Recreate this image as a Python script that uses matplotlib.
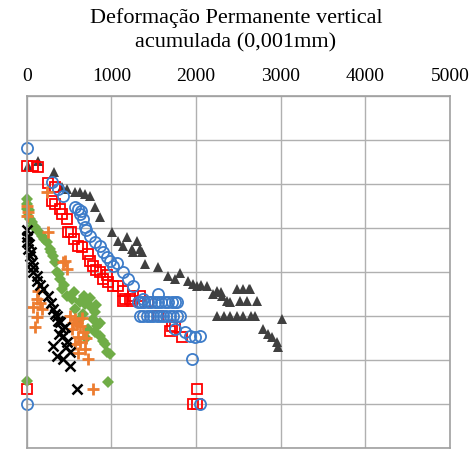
import numpy as np
import matplotlib
matplotlib.use('Agg')
import matplotlib.pyplot as plt

# deformacao permanente (0,001mm) vs posicao (eixo vertical sem rotulos)
tri_x = [10, 130, 320, 414, 473, 567, 626, 686, 745, 804, 863, 1005, 1076, 1135, 1182, 1241, 1300, 1336,
         1253, 1359, 1395, 1548, 1667, 1808, 1749, 1903, 1962, 2009, 2128, 2246, 2198, 2364, 2400, 2482,
         2553, 2636, 2600, 2719, 2246, 2400, 2482, 2553, 2695, 3014, 2790, 2849, 2896, 2955, 2967,
         2060, 2310, 2330, 2520, 2650, 2290, 2620]
tri_y = [1.59, 1.48, 1.73, 2.07, 2.11, 2.18, 2.18, 2.23, 2.27, 2.52, 2.75, 3.09, 3.30, 3.41, 3.20, 3.48, 3.30, 3.48,
         3.55, 3.55, 3.82, 3.89, 4.09, 4.02, 4.16, 4.20, 4.27, 4.32, 4.32, 4.43, 4.50, 4.66, 4.68, 4.39,
         4.39, 4.39, 4.66, 4.66, 5.00, 5.00, 5.00, 5.00, 5.00, 5.07, 5.30, 5.41, 5.48, 5.59, 5.70,
         4.30, 4.55, 5.00, 4.66, 5.00, 4.45, 4.39]

circ_x = [0, 295, 366, 425, 567, 603, 626, 662, 686, 745, 804, 863, 898, 946, 981, 1017, 1135, 1253, 1371, 1548,
          1312, 1350, 1390, 1430, 1470, 1510, 1550, 1590, 1630, 1670, 1710, 1750, 1773,
          1336, 1375, 1415, 1454, 1495, 1535, 1572, 1610, 1650, 1690, 1730, 1770, 1808,
          1749, 1868, 1927, 1986, 2045, 1950, 2045, 0, 640, 700, 1060, 1200]
circ_y = [1.18, 1.95, 2.11, 2.27, 2.52, 2.57, 2.68, 2.80, 2.98, 3.18, 3.32, 3.41, 3.55, 3.66, 3.75, 3.86, 4.00, 4.32, 4.61, 4.50,
          4.68, 4.68, 4.68, 4.68, 4.68, 4.68, 4.68, 4.68, 4.68, 4.68, 4.68, 4.68, 4.68,
          5.00, 5.00, 5.00, 5.00, 5.00, 5.00, 5.00, 5.00, 5.00, 5.00, 5.00, 5.00, 5.00,
          5.30, 5.36, 5.45, 5.48, 5.45, 5.98, 7.00, 7.00, 2.62, 3.05, 3.80, 4.15]

sq_x = [0, 70, 130, 250, 330, 295, 330, 390, 414, 473, 485, 603, 650, 721, 745, 780, 863, 946, 957, 1017,
        1076, 1135, 1158, 1217, 1253, 1336, 1135, 1241, 1690, 1749, 1832, 1714, 2009, 1962, 2009, 0,
        520, 560, 820, 900, 1430, 1550]
sq_y = [1.59, 1.59, 1.61, 1.98, 2.07, 2.39, 2.45, 2.57, 2.68, 2.80, 3.09, 3.41, 3.43, 3.59, 3.75, 3.86, 4.00, 4.07, 4.23, 4.32,
        4.32, 4.43, 4.61, 4.61, 4.55, 4.55, 4.66, 4.66, 5.34, 5.25, 5.48, 5.23, 6.66, 7.00, 7.00, 6.66,
        3.10, 3.25, 3.95, 4.15, 4.68, 5.00]

dia_x = [0, 0, 0, 10, 20, 60, 70, 130, 177, 236, 270, 307, 330, 355, 390, 414, 473, 532, 626, 686, 745, 804,
         780, 827, 804, 863, 898, 922, 946, 981, 721, 626, 567, 560, 680, 750, 820, 0, 957,
         40, 100, 200, 290, 380, 440, 660, 860, 700]
dia_y = [2.35, 2.45, 2.57, 2.73, 2.60, 2.86, 2.95, 3.07, 3.18, 3.32, 3.48, 3.64, 3.77, 4.00, 4.16, 4.39, 4.55, 4.61, 4.68, 4.73, 4.77, 4.91,
         5.07, 5.23, 5.36, 5.45, 5.57, 5.64, 5.82, 5.86, 5.30, 5.07, 4.84, 4.45, 4.55, 4.60, 4.75, 6.48, 6.50,
         2.80, 2.98, 3.25, 3.55, 4.05, 4.30, 4.95, 5.15, 5.50]

plus_x = [0, 0, 10, 236, 250, 425, 473, 450, 130, 120, 70, 177, 120, 95, 508, 567, 591, 626, 662, 603, 626,
          686, 721, 532, 567, 780, 650, 700, 540, 600, 160]
plus_y = [2.50, 2.73, 2.64, 2.18, 3.09, 3.77, 3.93, 3.75, 4.43, 4.61, 4.80, 4.84, 5.02, 5.25, 5.00, 5.07, 5.18, 5.23, 5.36, 5.48, 5.59,
          5.75, 5.98, 5.30, 5.64, 6.66, 5.05, 5.50, 5.15, 5.85, 4.70]

xm_x = [0, 10, 0, 10, 35, 60, 70, 70, 120, 120, 190, 250, 307, 330, 355, 366, 390, 414, 425, 473, 307, 355,
        425, 508, 508, 591, 0, 20, 47, 150, 280, 450, 380, 460]
xm_y = [3.05, 3.18, 3.32, 3.48, 3.64, 3.77, 3.89, 4.00, 4.09, 4.20, 4.39, 4.55, 4.84, 4.95, 5.00, 5.11, 5.14, 5.30, 5.45, 5.59, 5.68, 5.91,
        5.98, 5.82, 6.14, 6.66, 3.20, 3.36, 3.55, 4.30, 4.70, 5.25, 5.40, 5.70]

plt.rcParams['font.family'] = ['Liberation Serif', 'DejaVu Serif']

fig = plt.figure(figsize=(4.72, 4.52), dpi=100)
ax = fig.add_axes([0.057, 0.007, 0.896, 0.778])

ax.plot(tri_x, tri_y, '^', color='#404040', markersize=7.5, markeredgewidth=0, clip_on=False)
ax.plot(sq_x, sq_y, 's', mfc='none', mec='#ff0000', markersize=7.5, markeredgewidth=1.3, clip_on=False)
ax.plot(circ_x, circ_y, 'o', mfc='none', mec='#3d7cc9', markersize=8, markeredgewidth=1.3, clip_on=False)
ax.plot(dia_x, dia_y, 'D', color='#70ad47', markersize=6.5, markeredgewidth=0, clip_on=False)
ax.plot(plus_x, plus_y, '+', color='#ed7d31', markersize=9, markeredgewidth=2, clip_on=False)
ax.plot(xm_x, xm_y, 'x', color='#000000', markersize=7.5, markeredgewidth=1.8, clip_on=False)

ax.set_xlim(0, 5000)
ax.set_ylim(8, 0)
ax.set_xticks(np.arange(0, 5001, 1000))
ax.set_yticks(np.arange(0, 9, 1))
ax.set_yticklabels([])
ax.xaxis.tick_top()
ax.tick_params(axis='x', length=0, pad=9, labelsize=14)
ax.tick_params(axis='y', length=0)
ax.grid(True, color='#b0b0b0', linewidth=1)
ax.set_axisbelow(True)
for s in ax.spines.values():
    s.set_color('#a0a0a0')
    s.set_linewidth(1.2)

fig.text(0.5, 0.983, 'Deformação Permanente vertical\nacumulada (0,001mm)', ha='center', va='top',
         fontsize=16, linespacing=1.4)

fig.savefig('out.png', dpi=100)
